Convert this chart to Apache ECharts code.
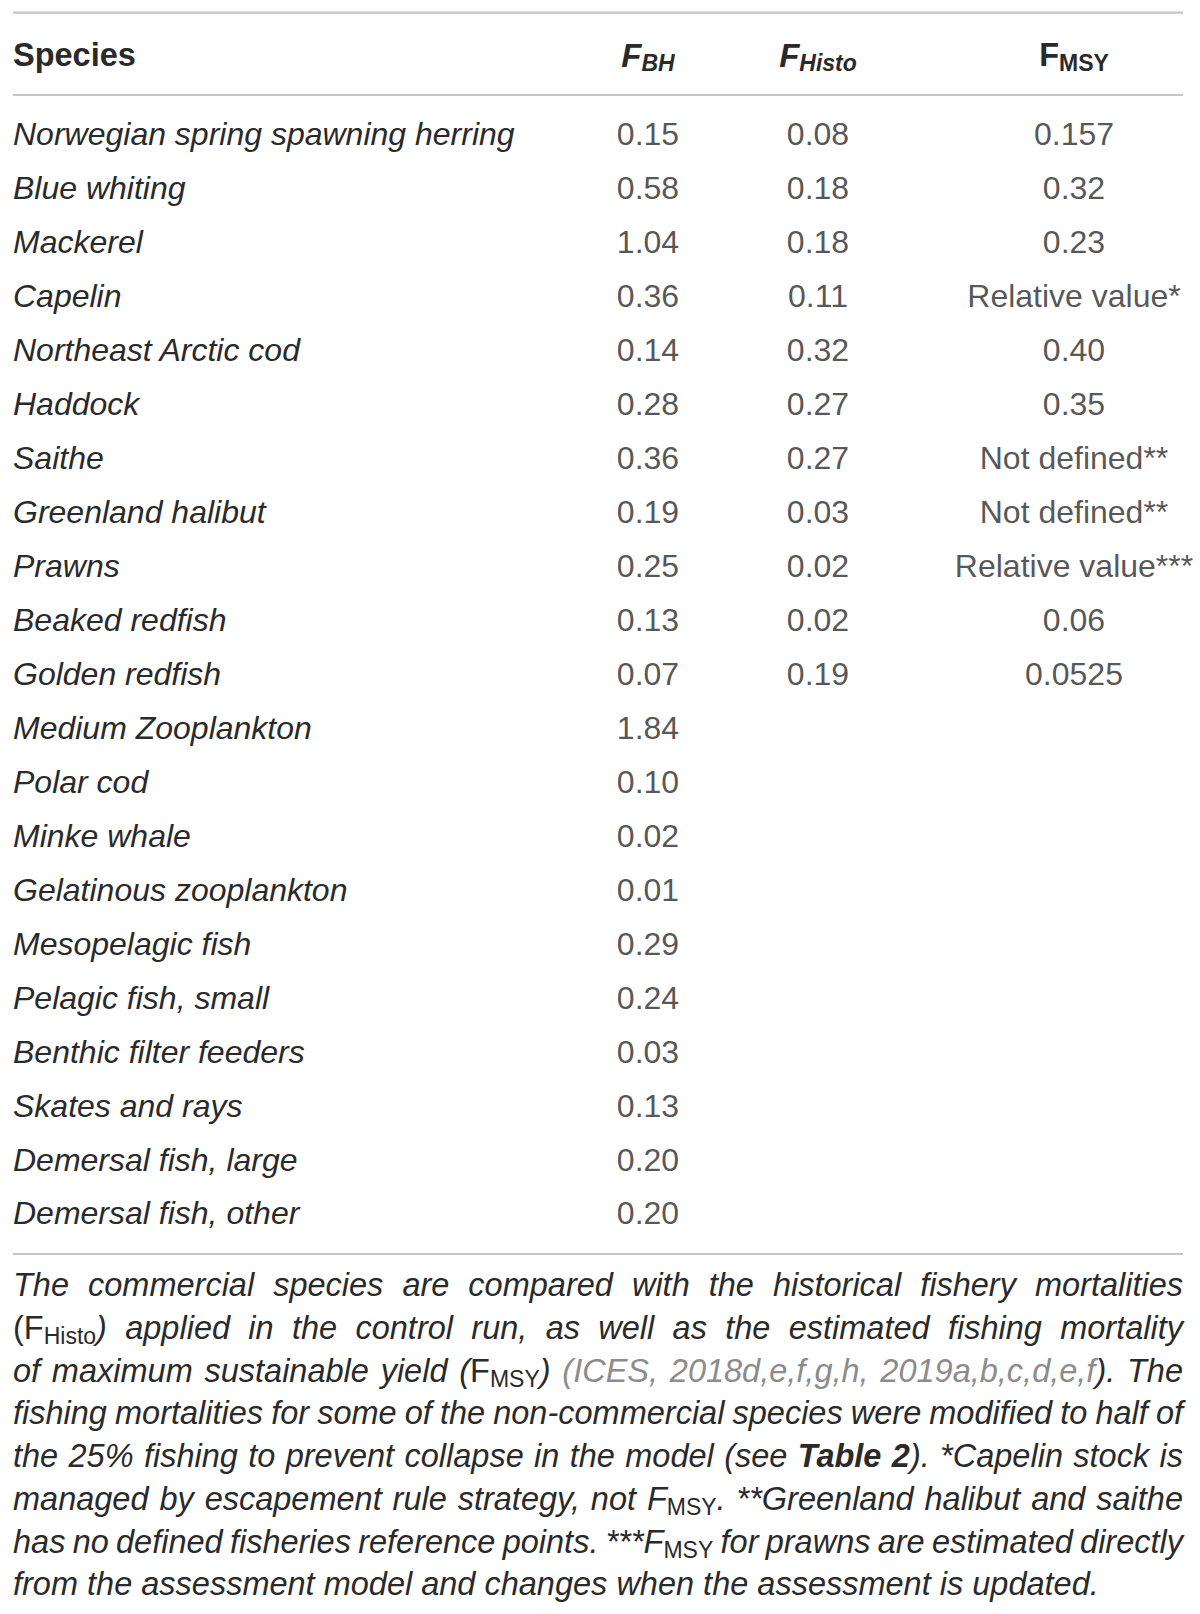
<!DOCTYPE html>
<html>
<head>
<meta charset="utf-8">
<script src="https://cdn.jsdelivr.net/npm/echarts@6/dist/echarts.min.js"></script>
<style>
html, body { margin: 0; padding: 0; background: #fff; }
#main { width: 1200px; height: 1614px; }
</style>
</head>
<body>
<div id="main"></div>
<script>
// table data
var species = ['Norwegian spring spawning herring', 'Blue whiting', 'Mackerel', 'Capelin',
    'Northeast Arctic cod', 'Haddock', 'Saithe', 'Greenland halibut', 'Prawns', 'Beaked redfish',
    'Golden redfish', 'Medium Zooplankton', 'Polar cod', 'Minke whale', 'Gelatinous zooplankton',
    'Mesopelagic fish', 'Pelagic fish, small', 'Benthic filter feeders', 'Skates and rays',
    'Demersal fish, large', 'Demersal fish, other'];
var fBH = ['0.15', '0.58', '1.04', '0.36', '0.14', '0.28', '0.36', '0.19', '0.25', '0.13', '0.07',
    '1.84', '0.10', '0.02', '0.01', '0.29', '0.24', '0.03', '0.13', '0.20', '0.20'];
var fHisto = ['0.08', '0.18', '0.18', '0.11', '0.32', '0.27', '0.27', '0.03', '0.02', '0.02', '0.19'];
var fMSY = ['0.157', '0.32', '0.23', 'Relative value*', '0.40', '0.35', 'Not defined**',
    'Not defined**', 'Relative value***', '0.06', '0.0525'];

// caption, one string per printed line; {style|text} marks a styled run
var captionLines = [
    'The commercial species are compared with the historical fishery mortalities',
    '{u|(F}{su|Histo}) applied in the control run, as well as the estimated fishing mortality',
    'of maximum sustainable yield ({u|F}{su|MSY}) {g|(ICES,} {g|2018d,e,f,g,h,} {g|2019a,b,c,d,e,f}). The',
    'fishing mortalities for some of the non-commercial species were modified to half of',
    'the 25% fishing to prevent collapse in the model (see {b|Table} {b|2}). *Capelin stock is',
    'managed by escapement rule strategy, not F{su|MSY}. **Greenland halibut and saithe',
    'has no defined fisheries reference points. ***F{su|MSY} for prawns are estimated directly',
    'from the assessment model and changes when the assessment is updated.'
];

// layout
var FAMILY = "'Liberation Sans', Arial, sans-serif";
var INK = '#2a2a2a';
var LEFT = 13, RIGHT = 1183;
var colCenter = { bh: 648, histo: 818, msy: 1074 };
var rowTop = 107.5, rowH = 53.95;
var capTop = 1285, capStep = 42.75;

var fonts = {
    i: { font: 'italic 400 32.5px ' + FAMILY, fill: INK, dy: 0 },
    u: { font: 'normal 400 32.5px ' + FAMILY, fill: INK, dy: 0 },
    su: { font: 'normal 400 23px ' + FAMILY, fill: INK, dy: 8 },
    g: { font: 'italic 400 32.5px ' + FAMILY, fill: '#8c8c8c', dy: 0 },
    b: { font: 'italic 700 32.5px ' + FAMILY, fill: INK, dy: 0 },
    hb: { font: 'normal 700 32.5px ' + FAMILY, fill: INK, dy: 0 },
    hbi: { font: 'italic 700 33px ' + FAMILY, fill: INK, dy: 0 },
    hsi: { font: 'italic 700 23px ' + FAMILY, fill: INK, dy: 8 },
    hs: { font: 'normal 700 23px ' + FAMILY, fill: INK, dy: 8 }
};

var ctx = document.createElement('canvas').getContext('2d');
function textWidth(str, key) {
    ctx.font = fonts[key].font;
    return ctx.measureText(str).width;
}
function piecesWidth(pieces) {
    var w = 0;
    pieces.forEach(function (p) { w += textWidth(p[1], p[0]); });
    return w;
}
function parseWord(word) {
    var out = [], re = /\{(\w+)\|([^}]*)\}|([^{]+)/g, m;
    while ((m = re.exec(word)) !== null) {
        if (m[1]) out.push([m[1], m[2]]);
        else out.push(['i', m[3]]);
    }
    return out;
}
function placePieces(list, pieces, x, y) {
    pieces.forEach(function (p) {
        var f = fonts[p[0]];
        list.push({
            type: 'text', x: x, y: y + f.dy, silent: true,
            style: { text: p[1], font: f.font, fill: f.fill, align: 'left', verticalAlign: 'middle' }
        });
        x += textWidth(p[1], p[0]);
    });
}

var graphics = [];
// rules
[12.7, 95, 1254].forEach(function (y) {
    graphics.push({ type: 'line', silent: true, shape: { x1: LEFT, y1: y, x2: RIGHT, y2: y },
        style: { stroke: '#c6c6c6', lineWidth: 2.2 } });
});
// header
var headY = 55;
placePieces(graphics, [['hb', 'Species']], LEFT, headY);
[[colCenter.bh, [['hbi', 'F'], ['hsi', 'BH']]],
 [colCenter.histo, [['hbi', 'F'], ['hsi', 'Histo']]],
 [colCenter.msy, [['hb', 'F'], ['hs', 'MSY']]]].forEach(function (h) {
    placePieces(graphics, h[1], h[0] - piecesWidth(h[1]) / 2, headY);
});
// caption, justified
captionLines.forEach(function (line, li) {
    var words = line.split(' ').map(parseWord);
    var widths = words.map(piecesWidth);
    var total = widths.reduce(function (a, b) { return a + b; }, 0);
    var last = li === captionLines.length - 1;
    var gap = last ? textWidth(' ', 'i') : (RIGHT - LEFT - total) / (words.length - 1);
    var x = LEFT, y = capTop + li * capStep;
    words.forEach(function (w, wi) {
        placePieces(graphics, w, x, y);
        x += widths[wi] + gap;
    });
});

function column(values, cx) {
    return {
        type: 'scatter',
        symbolSize: 1,
        silent: true,
        itemStyle: { color: 'rgba(0,0,0,0)' },
        label: {
            show: true, position: 'inside', formatter: '{b}',
            fontFamily: FAMILY, fontSize: 32, color: INK
        },
        data: values.map(function (v, i) { return { name: v, value: [cx, i] }; })
    };
}

var myChart = echarts.init(document.getElementById('main'), null, { renderer: 'svg' });
var option = {
    animation: false,
    backgroundColor: '#fff',
    grid: { left: 0, right: 0, top: rowTop, height: rowH * species.length },
    xAxis: { type: 'value', min: 0, max: 1200, show: false },
    yAxis: {
        type: 'category',
        data: species,
        inverse: true,
        axisLine: { show: false },
        axisTick: { show: false },
        splitLine: { show: false },
        axisLabel: {
            inside: true, margin: LEFT, align: 'left',
            fontFamily: FAMILY, fontStyle: 'italic', fontSize: 32, color: INK
        }
    },
    series: [column(fBH, colCenter.bh), column(fHisto, colCenter.histo), column(fMSY, colCenter.msy)],
    graphic: graphics
};
myChart.setOption(option);
</script>
</body>
</html>
